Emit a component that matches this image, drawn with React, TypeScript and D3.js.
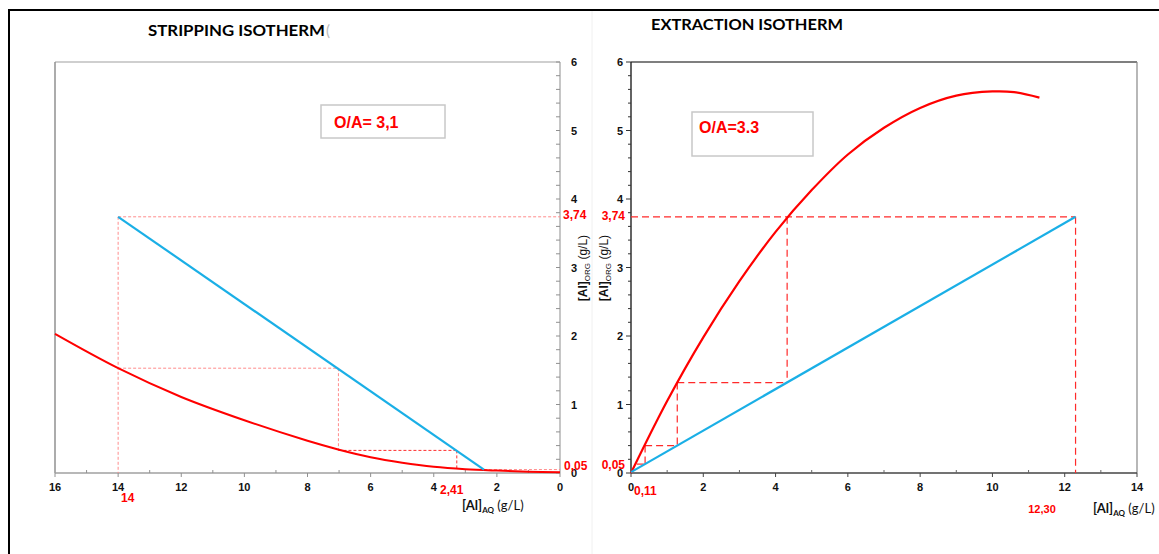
import React from "react";
import * as d3 from "d3";

// ---------- data ----------
const stripCurveX = [16, 14, 12, 10, 8, 7, 6, 5, 4, 3, 2, 1, 0];
const stripCurveY = [2.03, 1.53, 1.11, 0.77, 0.47, 0.34, 0.23, 0.15, 0.09, 0.055, 0.035, 0.02, 0.01];
const stripOpX = [14, 2.41];
const stripOpY = [3.74, 0.05];
// dashed construction segments [x1, y1, x2, y2]
const stripDashLight = [
  [14, 3.74, 14, 0],
  [14, 3.74, 0, 3.74],
  [14, 1.53, 7.02, 1.53],
  [7.02, 1.53, 7.02, 0.33],
  [2.41, 0.05, 0, 0.05],
];
const stripDashDark = [
  [7.02, 0.33, 3.27, 0.33],
  [3.27, 0.33, 3.27, 0.055],
];

const extCurveX = [0, 1, 2, 3, 4, 5, 6, 7, 8, 9, 10, 10.6, 11.3];
const extCurveY = [0, 1.05, 1.98, 2.8, 3.52, 4.13, 4.65, 5.04, 5.33, 5.51, 5.57, 5.56, 5.48];
const extOpX = [0, 12.3];
const extOpY = [0.013, 3.74];
const extDash = [
  [0, 3.74, 12.3, 3.74],
  [12.3, 3.74, 12.3, 0],
  [4.32, 3.74, 4.32, 1.32],
  [1.28, 1.32, 4.32, 1.32],
  [1.28, 1.32, 1.28, 0.4],
  [0.39, 0.4, 1.28, 0.4],
  [0.39, 0.4, 0.39, 0.13],
  [0.16, 0.13, 0.39, 0.13],
];

const stripXTicks = [16, 14, 12, 10, 8, 6, 4, 2, 0];
const extXTicks = [0, 2, 4, 6, 8, 10, 12, 14];
const yTicks = [0, 1, 2, 3, 4, 5, 6];
const stripTitle = "STRIPPING ISOTHERM";
const extTitle = "EXTRACTION ISOTHERM";
const stripRatio = "O/A= 3,1";
const extRatio = "O/A=3.3";

// ---------- layout ----------
const W = 1159;
const H = 554;
const RED = "#ff0000";
const BLUE = "#1aafe6";
const TICKFONT = "'Liberation Sans', Arial, sans-serif";
const TITLEFONT = "Lato, 'Open Sans', sans-serif";

const lx = d3.scaleLinear().domain([16, 0]).range([55, 560]);
const ly = d3.scaleLinear().domain([0, 6]).range([473, 62]);
const rx = d3.scaleLinear().domain([0, 14]).range([631, 1137]);
const ry = d3.scaleLinear().domain([0, 6]).range([473, 62]);

const minorY = d3.range(0, 30.5, 1).map((i) => i * 0.2);

function zip(xs: number[], ys: number[]) {
  return xs.map((x, i) => [x, ys[i]] as [number, number]);
}

function AxisTitleX({ x, y }: { x: number; y: number }) {
  return (
    <text x={x} y={y} fontFamily={TITLEFONT} fontSize={13} fill="#111">
      <tspan fontWeight="bold">[Al]</tspan>
      <tspan fontWeight="bold" fontSize={8} dy={3}>AQ</tspan>
      <tspan dy={-3}> (g/L)</tspan>
    </text>
  );
}

function AxisTitleY({ cx, cy }: { cx: number; cy: number }) {
  return (
    <text
      transform={`translate(${cx},${cy}) rotate(-90)`}
      textAnchor="middle"
      fontFamily={TICKFONT}
      fontSize={12}
      fill="#111"
    >
      <tspan fontWeight="bold">[Al]</tspan>
      <tspan fontSize={8} dy={3}>ORG</tspan>
      <tspan dy={-3}> (g/L)</tspan>
    </text>
  );
}

export default function App() {
  const stripLine = d3
    .line<[number, number]>()
    .x((d) => lx(d[0]))
    .y((d) => ly(d[1]))
    .curve(d3.curveCatmullRom.alpha(0.5));
  const stripStraight = d3
    .line<[number, number]>()
    .x((d) => lx(d[0]))
    .y((d) => ly(d[1]));
  const extLine = d3
    .line<[number, number]>()
    .x((d) => rx(d[0]))
    .y((d) => ry(d[1]))
    .curve(d3.curveCatmullRom.alpha(0.5));
  const extStraight = d3
    .line<[number, number]>()
    .x((d) => rx(d[0]))
    .y((d) => ry(d[1]));

  const lMinorX = d3.range(1, 16, 2);
  const rMinorX = d3.range(1, 14, 2);

  return (
    <svg
      width={W}
      height={H}
      style={{ position: "absolute", left: 0, top: 0, background: "#fff" }}
    >
      <rect x={0} y={0} width={W} height={H} fill="#fff" />
      {/* outer frame */}
      <line x1={8} y1={10} x2={W} y2={10} stroke="#000" strokeWidth={2} />
      <line x1={9} y1={9} x2={9} y2={H} stroke="#000" strokeWidth={2} />
      <line x1={592} y1={11} x2={592} y2={H} stroke="#f0f0f0" strokeWidth={1} />

      {/* titles */}
      <text x={148} y={36} fontFamily={TITLEFONT} fontWeight="bold" fontSize={15} textLength={177} lengthAdjust="spacingAndGlyphs" fill="#000">
        {stripTitle}
      </text>
      <text x={326} y={36} fontFamily={TITLEFONT} fontSize={15} fill="#bbb">(</text>
      <text x={651} y={30} fontFamily={TITLEFONT} fontWeight="bold" fontSize={15} textLength={192} lengthAdjust="spacingAndGlyphs" fill="#000">
        {extTitle}
      </text>

      {/* ================= LEFT: STRIPPING ================= */}
      <g>
        <line x1={55} y1={62} x2={560} y2={62} stroke="#a0a0a0" strokeWidth={1.2} />
        <line x1={55} y1={62} x2={55} y2={473} stroke="#909090" strokeWidth={1.5} />
        <line x1={560} y1={62} x2={560} y2={473} stroke="#a0a0a0" strokeWidth={1.2} />
        <line x1={55} y1={473} x2={560} y2={473} stroke="#a0a0a0" strokeWidth={1.5} />
        {minorY.map((v, i) => (
          <line key={"lyt" + i} x1={556} x2={560} y1={ly(v)} y2={ly(v)} stroke="#909090" strokeWidth={1} />
        ))}
        {yTicks.map((v) => (
          <text key={"lyl" + v} x={571} y={ly(v) + 4} fontFamily={TICKFONT} fontWeight="bold" fontSize={11} fill="#111">
            {v}
          </text>
        ))}
        {stripXTicks.map((v) => (
          <line key={"lxt" + v} x1={lx(v)} x2={lx(v)} y1={473} y2={477} stroke="#909090" strokeWidth={1} />
        ))}
        {lMinorX.map((v) => (
          <line key={"lxm" + v} x1={lx(v)} x2={lx(v)} y1={470} y2={473} stroke="#909090" strokeWidth={1} />
        ))}
        {stripXTicks.map((v) => (
          <text key={"lxl" + v} x={lx(v)} y={491} textAnchor="middle" fontFamily={TICKFONT} fontWeight="bold" fontSize={11} fill="#111">
            {v}
          </text>
        ))}

        {stripDashLight.map((s, i) => (
          <line key={"lsl" + i} x1={lx(s[0])} y1={ly(s[1])} x2={lx(s[2])} y2={ly(s[3])} stroke="#ff8c8c" strokeWidth={1} strokeDasharray="3,2" />
        ))}
        {stripDashDark.map((s, i) => (
          <line key={"lsd" + i} x1={lx(s[0])} y1={ly(s[1])} x2={lx(s[2])} y2={ly(s[3])} stroke="#ff3030" strokeWidth={1} strokeDasharray="3,2" />
        ))}

        <path d={stripLine(zip(stripCurveX, stripCurveY)) || ""} fill="none" stroke={RED} strokeWidth={2} />
        <path d={stripStraight(zip(stripOpX, stripOpY)) || ""} fill="none" stroke={BLUE} strokeWidth={2.2} />

        <rect x={321} y={105} width={124} height={33} fill="#fff" stroke="#c8c8c8" strokeWidth={1.5} />
        <text x={334} y={128} fontFamily={TICKFONT} fontWeight="bold" fontSize={16} fill={RED}>
          {stripRatio}
        </text>

        <text x={563} y={ly(3.74) + 2} fontFamily={TICKFONT} fontWeight="bold" fontSize={12} fill={RED}>3,74</text>
        <text x={564} y={470} fontFamily={TICKFONT} fontWeight="bold" fontSize={12} fill={RED}>0,05</text>
        <text x={440} y={494} fontFamily={TICKFONT} fontWeight="bold" fontSize={12} fill={RED}>2,41</text>
        <text x={121} y={502} fontFamily={TICKFONT} fontWeight="bold" fontSize={12} fill={RED}>14</text>

        <AxisTitleX x={462} y={510} />
        <AxisTitleY cx={587} cy={268} />
      </g>

      {/* ================= RIGHT: EXTRACTION ================= */}
      <g>
        <line x1={631} y1={62} x2={1137} y2={62} stroke="#555" strokeWidth={1.4} />
        <line x1={1137} y1={62} x2={1137} y2={473} stroke="#888" strokeWidth={1.2} />
        <line x1={631} y1={62} x2={631} y2={473} stroke="#222" strokeWidth={1.4} />
        <line x1={631} y1={473} x2={1137} y2={473} stroke="#444" strokeWidth={1.5} />
        {minorY.map((v, i) => (
          <line key={"ryt" + i} x1={Math.abs(v - Math.round(v)) < 1e-6 ? 626 : 628} x2={631} y1={ry(v)} y2={ry(v)} stroke="#333" strokeWidth={1} />
        ))}
        {yTicks.map((v) => (
          <text key={"ryl" + v} x={623} y={ry(v) + 4} textAnchor="end" fontFamily={TICKFONT} fontWeight="bold" fontSize={11} fill="#111">
            {v}
          </text>
        ))}
        {extXTicks.map((v) => (
          <line key={"rxt" + v} x1={rx(v)} x2={rx(v)} y1={473} y2={477} stroke="#444" strokeWidth={1} />
        ))}
        {rMinorX.map((v) => (
          <line key={"rxm" + v} x1={rx(v)} x2={rx(v)} y1={470} y2={473} stroke="#666" strokeWidth={1} />
        ))}
        {extXTicks.map((v) => (
          <text key={"rxl" + v} x={rx(v)} y={491} textAnchor="middle" fontFamily={TICKFONT} fontWeight="bold" fontSize={11} fill="#111">
            {v}
          </text>
        ))}

        {extDash.map((s, i) => (
          <line key={"rd" + i} x1={rx(s[0])} y1={ry(s[1])} x2={rx(s[2])} y2={ry(s[3])} stroke="#ff2a2a" strokeWidth={1.2} strokeDasharray="7,4" />
        ))}

        <path d={extLine(zip(extCurveX, extCurveY)) || ""} fill="none" stroke={RED} strokeWidth={2.2} />
        <path d={extStraight(zip(extOpX, extOpY)) || ""} fill="none" stroke={BLUE} strokeWidth={2.2} />

        <rect x={692} y={112} width={121} height={44} fill="#fff" stroke="#c8c8c8" strokeWidth={1.5} />
        <text x={699} y={133} fontFamily={TICKFONT} fontWeight="bold" fontSize={16} fill={RED}>
          {extRatio}
        </text>

        <text x={625} y={ry(3.74) + 3} textAnchor="end" fontFamily={TICKFONT} fontWeight="bold" fontSize={12} fill={RED}>3,74</text>
        <text x={625} y={469} textAnchor="end" fontFamily={TICKFONT} fontWeight="bold" fontSize={12} fill={RED}>0,05</text>
        <text x={634} y={495} fontFamily={TICKFONT} fontWeight="bold" fontSize={12} fill={RED}>0,11</text>
        <text x={1042} y={513} textAnchor="middle" fontFamily={TICKFONT} fontWeight="bold" fontSize={11} fill={RED}>12,30</text>

        <AxisTitleX x={1093} y={513} />
        <AxisTitleY cx={608} cy={268} />
      </g>
    </svg>
  );
}
